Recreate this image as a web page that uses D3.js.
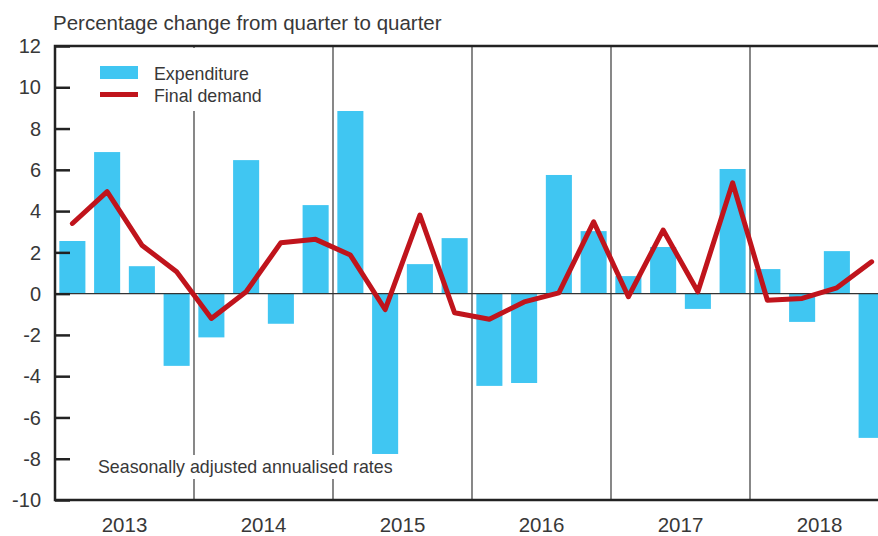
<!DOCTYPE html>
<html>
<head>
<meta charset="utf-8">
<script src="https://cdn.jsdelivr.net/npm/d3@7"></script>
<style>
  body { margin: 0; background: #fff; }
  text { font-family: 'Liberation Sans', Arial, sans-serif; fill: #383838; }
</style>
</head>
<body>
<div id="chart"></div>
<script>
const years = ['2013', '2014', '2015', '2016', '2017', '2018'];
const quarters = ['Q1', 'Q2', 'Q3', 'Q4'];
const expenditure = [
  2.55, 6.86, 1.33, -3.5,
  -2.12, 6.47, -1.46, 4.29,
  8.85, -7.77, 1.43, 2.69,
  -4.47, -4.33, 5.75, 3.03,
  0.85, 2.26, -0.74, 6.04,
  1.19, -1.37, 2.06, -6.99
];
const finalDemand = [
  3.4, 4.94, 2.35, 1.06,
  -1.2, 0.09, 2.47, 2.63,
  1.87, -0.77, 3.81, -0.93,
  -1.24, -0.4, 0.04, 3.48,
  -0.15, 3.08, 0.09, 5.37,
  -0.32, -0.23, 0.28, 1.54
];
const yTicks = [-10, -8, -6, -4, -2, 0, 2, 4, 6, 8, 10, 12];

const width = 878;
const height = 536;
const MARGIN = { top: 46, right: -11, bottom: 36, left: 55 };
const innerW = width - MARGIN.left - MARGIN.right;
const innerH = height - MARGIN.top - MARGIN.bottom;
const BLUE = '#40c6f2';
const RED = '#c0141c';

const periods = [];
years.forEach(y => quarters.forEach(q => periods.push(y + q)));

const svg = d3.select('#chart')
  .append('svg')
  .attr('width', width)
  .attr('height', height);

svg.append('text')
  .attr('x', 53)
  .attr('y', 29.5)
  .style('font-size', '20.5px')
  .text('Percentage change from quarter to quarter');

const g = svg.append('g')
  .attr('transform', 'translate(' + MARGIN.left + ',' + MARGIN.top + ')');

// scales
const x = d3.scaleBand().domain(periods).range([0, innerW]).paddingInner(0.25).paddingOuter(0.125);
const xYear = d3.scaleBand().domain(years).range([0, innerW]);
const y = d3.scaleLinear().domain([-10, 12]).range([innerH, 0]);

// bars
g.selectAll('rect.bar')
  .data(expenditure)
  .join('rect')
  .classed('bar', true)
  .attr('x', (d, i) => x(periods[i]))
  .attr('width', x.bandwidth())
  .attr('y', d => y(Math.max(0, d)))
  .attr('height', d => Math.abs(y(d) - y(0)))
  .attr('fill', BLUE);

// year separators
g.selectAll('line.sep')
  .data(years.slice(1))
  .join('line')
  .classed('sep', true)
  .attr('x1', d => xYear(d))
  .attr('x2', d => xYear(d))
  .attr('y1', 0)
  .attr('y2', innerH)
  .attr('stroke', '#555')
  .attr('stroke-width', 1.4);

// zero line
g.append('line')
  .attr('x1', 0).attr('x2', innerW)
  .attr('y1', y(0)).attr('y2', y(0))
  .attr('stroke', '#333')
  .attr('stroke-width', 1.4);

// final demand line
const line = d3.line()
  .x((d, i) => x(periods[i]) + x.bandwidth() / 2)
  .y(d => y(d));

g.append('path')
  .datum(finalDemand)
  .attr('d', line)
  .attr('fill', 'none')
  .attr('stroke', RED)
  .attr('stroke-width', 5)
  .attr('stroke-linejoin', 'round')
  .attr('stroke-linecap', 'round');

// y axis with inward ticks
const yAxis = g.append('g')
  .call(d3.axisRight(y).tickValues(yTicks).tickSize(15).tickFormat(''));
yAxis.select('.domain').remove();
yAxis.selectAll('.tick line').attr('stroke', '#222').attr('stroke-width', 2.5);

g.selectAll('text.ylab')
  .data(yTicks)
  .join('text')
  .classed('ylab', true)
  .attr('x', -14)
  .attr('y', d => y(d))
  .attr('dy', '0.36em')
  .attr('text-anchor', 'end')
  .style('font-size', '20px')
  .text(d => d);

// frame: left, top, bottom
g.append('path')
  .attr('d', 'M' + innerW + ',0H0V' + innerH + 'H' + innerW)
  .attr('fill', 'none')
  .attr('stroke', '#222')
  .attr('stroke-width', 2.5);

// year labels
g.selectAll('text.xlab')
  .data(years)
  .join('text')
  .classed('xlab', true)
  .attr('x', d => xYear(d) + xYear.bandwidth() / 2)
  .attr('y', innerH + 32)
  .attr('text-anchor', 'middle')
  .style('font-size', '20.5px')
  .text(d => d);

// note
const note = g.append('g');
const noteText = note.append('text')
  .attr('x', 43)
  .attr('y', 427)
  .style('font-size', '17.8px')
  .text('Seasonally adjusted annualised rates');
const nb = noteText.node().getBBox();
note.insert('rect', 'text')
  .attr('x', nb.x - 4).attr('y', nb.y - 2)
  .attr('width', nb.width + 8).attr('height', nb.height + 4)
  .attr('fill', '#fff');

// legend
const legend = g.append('g');
legend.append('rect')
  .attr('x', 35).attr('y', 2)
  .attr('width', 200).attr('height', 63)
  .attr('fill', '#fff');
legend.append('rect')
  .attr('x', 45).attr('y', 20)
  .attr('width', 38).attr('height', 13)
  .attr('fill', BLUE);
legend.append('line')
  .attr('x1', 45).attr('x2', 83)
  .attr('y1', 48.5).attr('y2', 48.5)
  .attr('stroke', RED)
  .attr('stroke-width', 5);
legend.append('text')
  .attr('x', 99).attr('y', 34)
  .style('font-size', '17.8px')
  .text('Expenditure');
legend.append('text')
  .attr('x', 99).attr('y', 55.5)
  .style('font-size', '17.8px')
  .text('Final demand');
</script>
</body>
</html>
